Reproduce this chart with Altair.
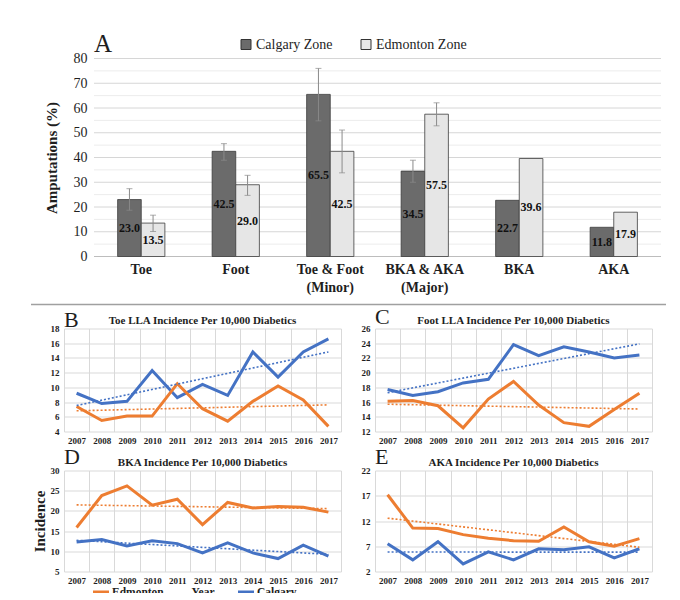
import altair as alt
import pandas as pd

SERIF = "Liberation Serif"
BLUE = "#4472C4"
ORANGE = "#ED7D31"
TXT = "#1e1e1e"

# ---------------- Panel A data ----------------
categories = ["Toe", "Foot", "Toe & Foot\n(Minor)", "BKA & AKA\n(Major)", "BKA", "AKA"]
zones = ["Calgary Zone", "Edmonton Zone"]
calgary_pct = [23.0, 42.5, 65.5, 34.5, 22.7, 11.8]
edmonton_pct = [13.5, 29.0, 42.5, 57.5, 39.6, 17.9]
calgary_err_low = [18.7, 38.9, 54.8, 30.0, None, None]
calgary_err_high = [27.4, 45.6, 76.0, 38.9, None, None]
edmonton_err_low = [10.1, 24.7, 33.8, 52.8, None, None]
edmonton_err_high = [16.7, 32.8, 51.1, 62.1, None, None]
gridA = [0, 5, 10, 15, 20, 25, 30, 35, 40, 45, 50, 55, 60, 65, 70, 75, 80]
ticksA = [0, 10, 20, 30, 40, 50, 60, 70, 80]

# ---------------- Panels B-E data ----------------
years = [2007, 2008, 2009, 2010, 2011, 2012, 2013, 2014, 2015, 2016, 2017]
series_names = ["Edmonton", "Calgary"]
toe_calgary = [9.2, 7.8, 8.1, 12.3, 8.6, 10.4, 8.9, 14.8, 11.4, 14.8, 16.6]
toe_edmonton = [7.4, 5.5, 6.1, 6.1, 10.5, 7.1, 5.4, 8.1, 10.2, 8.3, 4.7]
foot_calgary = [17.7, 16.9, 17.4, 18.6, 19.1, 23.8, 22.3, 23.5, 22.8, 22.0, 22.4]
foot_edmonton = [16.1, 16.2, 15.5, 12.5, 16.4, 18.8, 15.6, 13.2, 12.7, 15.0, 17.2]
bka_calgary = [12.3, 12.9, 11.3, 12.6, 11.9, 9.6, 12.1, 9.6, 8.2, 11.5, 8.8]
bka_edmonton = [15.9, 23.8, 26.2, 21.4, 22.9, 16.6, 22.1, 20.7, 21.1, 20.9, 19.7]
aka_calgary = [7.5, 4.3, 7.9, 3.5, 5.9, 4.3, 6.5, 6.3, 6.9, 4.7, 6.5]
aka_edmonton = [17.2, 10.6, 10.5, 9.3, 8.6, 8.1, 8.0, 10.8, 7.9, 7.0, 8.5]

# ================= Panel A =================
A_SHIFT = 30   # panel A's plotting region starts this far right of the shared left edge
A_W = 597

rows = []
for i, c in enumerate(categories):
    rows.append(dict(category=c, zone=zones[0], value=calgary_pct[i],
                     low=calgary_err_low[i], high=calgary_err_high[i]))
    rows.append(dict(category=c, zone=zones[1], value=edmonton_pct[i],
                     low=edmonton_err_low[i], high=edmonton_err_high[i]))
dfA = pd.DataFrame(rows)
baseA = alt.Chart(dfA)

xA = alt.X("category:N", sort=categories, title=None,
           scale=alt.Scale(range=[A_SHIFT, A_W], paddingInner=0.5, paddingOuter=0.25),
           axis=alt.Axis(labelExpr="split(datum.label, '\\n')", labelFont=SERIF,
                         labelFontWeight="bold", labelFontSize=14, labelLineHeight=18,
                         labelAngle=0, labelPadding=6, ticks=False, domain=False,
                         labelColor=TXT))
xoA = alt.XOffset("zone:N", sort=zones,
                  scale=alt.Scale(domain=zones, paddingInner=0, paddingOuter=0))
yscaleA = alt.Scale(domain=[0, 80], nice=False)
yaxisA = alt.Axis(values=ticksA, grid=False, offset=-A_SHIFT,
                  ticks=False, domain=False, labelFont=SERIF, labelFontSize=14,
                  labelPadding=7, labelColor=TXT, titleFont=SERIF, titleFontSize=15,
                  titleFontWeight="bold", titlePadding=14, titleColor=TXT)
YT = "Amputations (%)"


def yA(field):
    return alt.Y(field, scale=yscaleA, title=YT, axis=yaxisA)


colA = alt.Color("zone:N", scale=alt.Scale(domain=zones, range=["#6b6b6b", "#e6e6e6"]),
                 legend=alt.Legend(orient="none", legendX=175, legendY=-21, direction="horizontal",
                                   title=None, labelFont=SERIF, labelFontSize=14, labelColor=TXT,
                                   symbolType="square", symbolSize=100, symbolStrokeColor="#333333",
                                   symbolStrokeWidth=1, columnPadding=26, labelOffset=3))

grid = alt.Chart(pd.DataFrame({"g": gridA})).transform_calculate(
    gc="datum.g === 0 ? '#bdbdbd' : (datum.g % 10 === 0 ? '#d6d6d6' : '#ececec')"
).mark_rule(strokeWidth=1).encode(
    y=yA("g:Q"), x=alt.value(A_SHIFT), x2=alt.value(A_W),
    color=alt.Color("gc:N", scale=None))
bars = baseA.mark_bar(stroke="#3c3c3c", strokeWidth=0.8).encode(
    x=xA, xOffset=xoA, y=yA("value:Q"), color=colA)
err = baseA.transform_filter("isValid(datum.low)").mark_rule(color="#8a8a8a", strokeWidth=1).encode(
    x=xA, xOffset=xoA, y=yA("low:Q"), y2="high:Q")
cap_hi = baseA.transform_filter("isValid(datum.high)").mark_tick(color="#8a8a8a", size=6, thickness=1).encode(
    x=xA, xOffset=xoA, y=yA("high:Q"))
cap_lo = baseA.transform_filter("isValid(datum.low)").mark_tick(color="#8a8a8a", size=6, thickness=1).encode(
    x=xA, xOffset=xoA, y=yA("low:Q"))
vlabels = baseA.transform_calculate(mid="datum.value / 2").mark_text(
    font=SERIF, fontSize=12, fontWeight="bold", color="#111111").encode(
    x=xA, xOffset=xoA, y=yA("mid:Q"), text=alt.Text("value:Q", format=".1f"))
divider = alt.Chart(pd.DataFrame({"d": [0]})).mark_rule(color="#a0a0a0", strokeWidth=1.5).encode(
    x=alt.value(-33), x2=alt.value(602), y=alt.value(246))
letterA = alt.Chart(pd.DataFrame({"t": ["A"]})).mark_text(
    font=SERIF, fontSize=25, align="left", baseline="alphabetic", color=TXT).encode(
    text="t:N", x=alt.value(A_SHIFT), y=alt.value(-7))

chartA = alt.layer(grid, bars, err, cap_hi, cap_lo, vlabels, divider, letterA).properties(
    width=A_W, height=198).resolve_scale(color="independent")


# ================= Line panels =================
def line_panel(letter, heading, cal, edm, ydomain, yvalues, letter_y, height, legend=False,
               ytitle=None, xtitle=None):
    df = pd.DataFrame({"year": years + years,
                       "series": ["Calgary"] * len(years) + ["Edmonton"] * len(years),
                       "value": cal + edm})
    base = alt.Chart(df)
    xaxis_kw = dict(tickBand="extent", grid=True, gridColor="#d9d9d9", ticks=False, domain=False,
                    labelAngle=0, labelFont=SERIF, labelFontWeight="bold", labelFontSize=9,
                    labelPadding=5, labelColor=TXT)
    if xtitle:
        xaxis_kw.update(titleFont=SERIF, titleFontSize=11.5, titleFontWeight="bold",
                        titlePadding=1, titleColor=TXT)
    yaxis_kw = dict(values=yvalues, grid=True, gridColor="#d9d9d9", ticks=False, domain=False,
                    labelFont=SERIF, labelFontWeight="bold", labelFontSize=9, labelPadding=5,
                    labelColor=TXT)
    if ytitle:
        yaxis_kw.update(titleFont=SERIF, titleFontSize=15, titleFontWeight="bold",
                        titlePadding=3, titleColor=TXT)
    x = alt.X("year:O", bandPosition=0.5, title=xtitle,
              scale=alt.Scale(type="band", paddingInner=0, paddingOuter=0),
              axis=alt.Axis(**xaxis_kw))
    y = alt.Y("value:Q", title=ytitle, scale=alt.Scale(domain=ydomain, nice=False, zero=False),
              axis=alt.Axis(**yaxis_kw))
    cscale = alt.Scale(domain=series_names, range=[ORANGE, BLUE])
    if legend:
        leg = alt.Legend(orient="none", legendX=27, legendY=height + 11, direction="horizontal",
                         title=None, symbolType="stroke", symbolSize=256, symbolStrokeWidth=4,
                         labelFont=SERIF, labelFontSize=11.5, labelFontWeight="bold",
                         labelColor=TXT, labelOffset=1, columnPadding=66)
        color = alt.Color("series:N", scale=cscale, legend=leg)
    else:
        color = alt.Color("series:N", scale=cscale, legend=None)
    lines = base.mark_line(strokeWidth=3).encode(x=x, y=y, color=color)
    trend = base.transform_regression("year", "value", groupby=["series"]).transform_calculate(
        year="round(datum.year)").mark_line(strokeWidth=1.6, strokeDash=[2, 2]).encode(
        x=x, y=y, color=alt.Color("series:N", scale=cscale, legend=None))
    let = alt.Chart(pd.DataFrame({"t": [letter]})).mark_text(
        font=SERIF, fontSize=22, align="left", baseline="alphabetic", color=TXT).encode(
        text="t:N", x=alt.value(0), y=alt.value(letter_y))
    head = alt.Chart(pd.DataFrame({"h": [heading]})).mark_text(
        font=SERIF, fontSize=11, fontWeight="bold", align="center", baseline="middle",
        color=TXT).encode(text="h:N", x=alt.value(138.5), y=alt.value(-8))
    return alt.layer(lines, trend, let, head).properties(width=277, height=height)


chartB = line_panel("B", "Toe LLA Incidence Per 10,000 Diabetics", toe_calgary, toe_edmonton,
                    [4, 18], [4, 6, 8, 10, 12, 14, 16, 18], -2, 103)
chartC = line_panel("C", "Foot LLA Incidence Per 10,000 Diabetics", foot_calgary, foot_edmonton,
                    [12, 26], [12, 14, 16, 18, 20, 22, 24, 26], -5, 103)
chartD = line_panel("D", "BKA Incidence Per 10,000 Diabetics", bka_calgary, bka_edmonton,
                    [5, 30], [5, 10, 15, 20, 25, 30], -7, 101, legend=True, ytitle="Incidence",
                    xtitle="Year")
chartE = line_panel("E", "AKA Incidence Per 10,000 Diabetics", aka_calgary, aka_edmonton,
                    [2, 22], [2, 7, 12, 17, 22], -7, 101)

rowBC = alt.hconcat(chartB, chartC, spacing=20).resolve_scale(
    x="independent", y="independent", color="independent")
rowDE = alt.hconcat(chartD, chartE, spacing=20).resolve_scale(
    x="independent", y="independent", color="independent")

chart = alt.concat(chartA, rowBC, rowDE, columns=1, align="none", spacing=0).resolve_scale(
    x="independent", y="independent", color="independent").properties(
    padding={"left": 22, "top": 23.5, "right": 5, "bottom": -8},
    background="white"
).configure_view(strokeWidth=0)

chart.save("out.html", embed_options={"renderer": "svg", "actions": False})
